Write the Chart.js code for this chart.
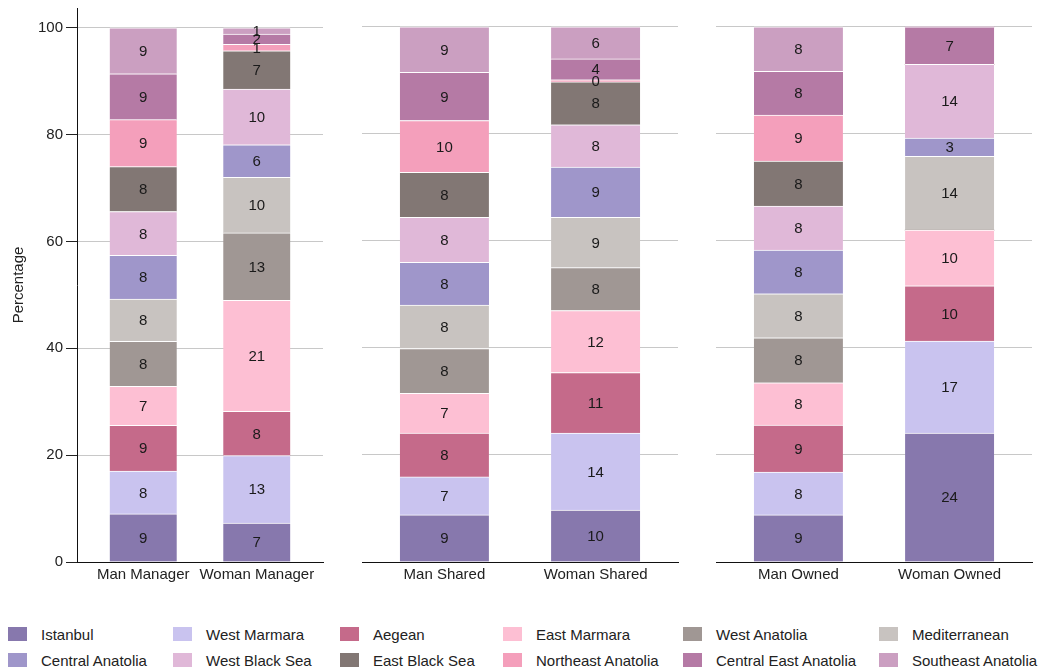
<!DOCTYPE html>
<html>
<head>
<meta charset="utf-8">
<title>Regional distribution by business role</title>
<script src="https://cdn.jsdelivr.net/npm/chart.js@4/dist/chart.umd.min.js"></script>
<style>
  html, body { margin: 0; padding: 0; background: #fff; }
  body { width: 1046px; height: 670px; position: relative; overflow: hidden;
         font-family: "Liberation Sans", Arial, sans-serif; }
  .panel { position: absolute; top: -4px; }
  #legend { position: absolute; left: 8px; top: 621px; display: grid;
            grid-template-columns: 165px 167px 163px 180px 196px auto;
            grid-auto-rows: 26px; font-size: 15px; color: #222; }
  .item { display: flex; align-items: center; white-space: nowrap; }
  .box { width: 19px; height: 14px; margin-right: 14px; flex: none; }
</style>
</head>
<body>
<canvas id="c1" class="panel" width="331" height="604" style="left:0px"></canvas>
<canvas id="c2" class="panel" width="332" height="604" style="left:354px"></canvas>
<canvas id="c3" class="panel" width="332" height="604" style="left:708px"></canvas>
<div id="legend"></div>
<script>
// Regions, bottom of the stack first
const regions = ['Istanbul', 'West Marmara', 'Aegean', 'East Marmara', 'West Anatolia', 'Mediterranean',
                 'Central Anatolia', 'West Black Sea', 'East Black Sea', 'Northeast Anatolia',
                 'Central East Anatolia', 'Southeast Anatolia'];
const regionColors = ['#8778ad', '#c9c3ef', '#c56a8a', '#fdbfd3', '#a09794', '#c8c3c0',
                      '#9f96ca', '#e0b8d8', '#827774', '#f49fbb', '#b57aa5', '#cb9fc1'];

// Group labels for each panel
const managerGroups = ['Man Manager', 'Woman Manager'];
const sharedGroups = ['Man Shared', 'Woman Shared'];
const ownedGroups = ['Man Owned', 'Woman Owned'];

// Percentage share of each region within a group (same order as regions)
const manManager   = [9.0, 8.0, 8.6, 7.3, 8.4, 7.9, 8.2, 8.2, 8.4, 8.8, 8.6, 8.6];
const womanManager = [7.3, 12.6, 8.3, 20.8, 12.6, 10.4, 6.1, 10.4, 7.2, 1.2, 1.9, 1.2];
const manShared    = [8.8, 7.1, 8.2, 7.4, 8.4, 8.1, 8.0, 8.4, 8.4, 9.7, 9.0, 8.5];
const womanShared  = [9.7, 14.4, 11.3, 11.6, 8.0, 9.4, 9.4, 7.9, 8.0, 0.4, 3.9, 6.0];
const manOwned     = [8.8, 8.0, 8.8, 7.9, 8.4, 8.2, 8.2, 8.2, 8.4, 8.6, 8.2, 8.3];
const womanOwned   = [24.1, 17.2, 10.3, 10.4, 0, 13.8, 3.4, 13.8, 0, 0, 7.0, 0];

const yTicks = [0, 20, 40, 60, 80, 100];

Chart.defaults.font.family = '"Liberation Sans", Arial, sans-serif';
Chart.defaults.font.size = 15;
Chart.defaults.color = '#222';

// Writes the rounded share in the middle of every non-empty segment
const segmentLabels = {
  id: 'segmentLabels',
  afterDatasetsDraw(chart) {
    const ctx = chart.ctx;
    ctx.save();
    ctx.font = '15px "Liberation Sans", Arial, sans-serif';
    ctx.fillStyle = '#1a1a1a';
    ctx.textAlign = 'center';
    ctx.textBaseline = 'middle';
    chart.data.datasets.forEach((ds, i) => {
      chart.getDatasetMeta(i).data.forEach((bar, j) => {
        const v = ds.data[j].y;
        if (!v) return;
        const p = bar.getProps(['x', 'y', 'base'], true);
        ctx.fillText(String(Math.round(v)), p.x, (p.y + p.base) / 2 + 1);
      });
    });
    ctx.restore();
  }
};

function makePanel(id, groups, first, second, opts) {
  const datasets = regions.map((name, i) => ({
    label: name,
    data: [{ x: 0, y: first[i] }, { x: 1, y: second[i] }],
    backgroundColor: regionColors[i],
    borderColor: '#ffffff',
    borderWidth: { top: 1, right: 0, bottom: 0, left: 0 },
    borderSkipped: false,
    barThickness: opts.barWidth
  }));

  const yAxis = opts.showAxis ? {
    stacked: true, min: 0, max: 103.7,
    afterBuildTicks(scale) { scale.ticks = yTicks.map(v => ({ value: v })); },
    afterFit(scale) { scale.width = 77; },
    ticks: { color: '#222', padding: 3 },
    grid: { color: '#c8c8c8', tickColor: '#222', tickLength: 11 },
    border: { display: true, color: '#111' },
    title: { display: true, text: 'Percentage', color: '#222', padding: { top: 10, bottom: 0 } }
  } : {
    stacked: true, min: 0, max: 103.7,
    afterBuildTicks(scale) { scale.ticks = yTicks.map(v => ({ value: v })); },
    afterFit(scale) { scale.width = 0; },
    ticks: { display: false },
    grid: { color: '#c8c8c8', drawTicks: false },
    border: { display: false }
  };

  return new Chart(document.getElementById(id), {
    type: 'bar',
    data: { datasets },
    options: {
      responsive: false,
      animation: false,
      devicePixelRatio: 1,
      layout: { padding: { top: opts.padTop, bottom: 0, left: opts.padLeft, right: 8 } },
      plugins: { legend: { display: false }, tooltip: { enabled: false } },
      scales: {
        x: {
          type: 'linear', stacked: true, offset: false, bounds: 'data',
          min: opts.xMin, max: opts.xMax,
          afterBuildTicks(scale) { scale.ticks = [{ value: 0 }, { value: 1 }]; },
          afterFit(scale) { scale.height = 38; },
          ticks: { color: '#222', padding: 4, callback: v => groups[v] ?? '', maxRotation: 0, autoSkip: false },
          grid: { display: false, drawTicks: false, offset: false },
          border: { display: true, color: '#111' }
        },
        y: yAxis
      }
    },
    plugins: [segmentLabels]
  });
}

makePanel('c1', managerGroups, manManager, womanManager,
          { showAxis: true, padTop: 0, padLeft: 0, barWidth: 67, xMin: -0.583, xMax: 1.583 });
makePanel('c2', sharedGroups, manShared, womanShared,
          { showAxis: false, padTop: 11, padLeft: 8, barWidth: 89, xMin: -0.545, xMax: 1.545 });
makePanel('c3', ownedGroups, manOwned, womanOwned,
          { showAxis: false, padTop: 11, padLeft: 8, barWidth: 89, xMin: -0.545, xMax: 1.545 });

// Legend laid out in two rows of six
const legend = document.getElementById('legend');
regions.forEach((name, i) => {
  const item = document.createElement('div');
  item.className = 'item';
  const box = document.createElement('span');
  box.className = 'box';
  box.style.background = regionColors[i];
  const text = document.createElement('span');
  text.textContent = name;
  item.appendChild(box);
  item.appendChild(text);
  legend.appendChild(item);
});
</script>
</body>
</html>
